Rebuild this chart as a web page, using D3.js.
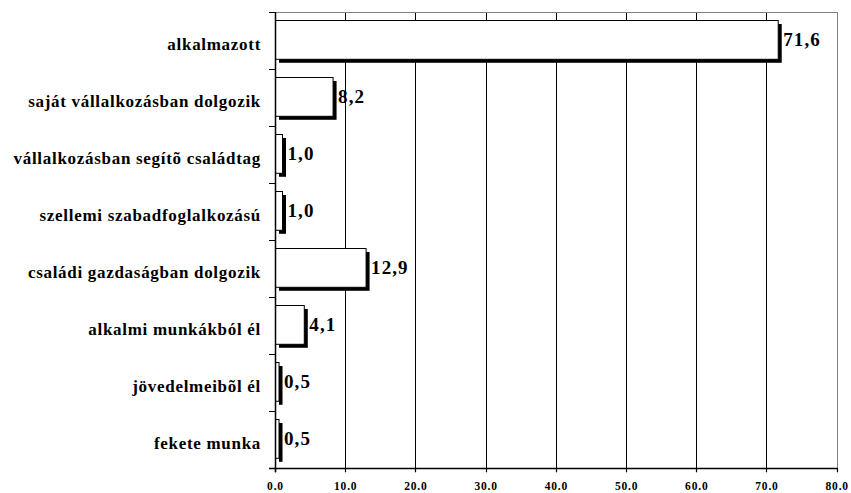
<!DOCTYPE html>
<html><head><meta charset="utf-8">
<script src="https://cdn.jsdelivr.net/npm/d3@7"></script>
<style>body{margin:0;background:#fff}svg{display:block}</style>
</head><body>
<script>
const categories = ["alkalmazott","saját vállalkozásban dolgozik","vállalkozásban segítõ családtag","szellemi szabadfoglalkozású","családi gazdaságban dolgozik","alkalmi munkákból él","jövedelmeibõl él","fekete munka"];
const values = [71.6, 8.2, 1.0, 1.0, 12.9, 4.1, 0.5, 0.5];
const valueLabels = ["71,6","8,2","1,0","1,0","12,9","4,1","0,5","0,5"];
const xTicks = [0,10,20,30,40,50,60,70,80];
const xTickLabels = ["0.0","10.0","20.0","30.0","40.0","50.0","60.0","70.0","80.0"];

(function(){
const W = 851, H = 493;
const pL = 275, pR = 836.7, pT = 12, pB = 468.3;
const svg = d3.select("body").append("svg").attr("width", W).attr("height", H);
const x = d3.scaleLinear().domain([0, 80]).range([pL, pR]);
const y = d3.scaleBand().domain(categories).range([pT, pB]).padding(0);
const font = "Liberation Serif, Times New Roman, serif";

// gridlines
svg.append("g").selectAll("line").data(xTicks.filter(t => t > 0 && t < 80)).join("line")
  .attr("x1", d => Math.round(x(d)) + 0.5).attr("x2", d => Math.round(x(d)) + 0.5)
  .attr("y1", pT).attr("y2", pB).attr("stroke", "#000").attr("stroke-width", 1);
// gray border top/right
svg.append("line").attr("x1", pL).attr("x2", Math.round(pR) + 0.5).attr("y1", pT + 0.5).attr("y2", pT + 0.5).attr("stroke", "#808080");
svg.append("line").attr("x1", Math.round(pR) + 0.5).attr("x2", Math.round(pR) + 0.5).attr("y1", pT).attr("y2", pB).attr("stroke", "#808080");

const bh = y.bandwidth() * 0.68, boff = 8, sh = 4;
const bars = svg.append("g");
// shadows
bars.selectAll("rect.sh").data(values).join("rect").attr("class", "sh")
  .attr("x", x(0) + sh).attr("y", (d, i) => Math.round(y(categories[i]) + boff) + sh)
  .attr("width", d => x(d) - x(0)).attr("height", bh).attr("fill", "#000");
bars.selectAll("rect.b").data(values).join("rect").attr("class", "b")
  .attr("x", x(0) + 0.5).attr("y", (d, i) => Math.round(y(categories[i]) + boff) + 0.5)
  .attr("width", d => x(d) - x(0)).attr("height", bh).attr("fill", "#fff")
  .attr("stroke", "#000").attr("stroke-width", 1);

// value labels
svg.append("g").selectAll("text").data(values).join("text")
  .attr("x", d => x(d) + sh + 1.5)
  .attr("y", (d, i) => y(categories[i]) + boff + bh / 2 + 6.5)
  .attr("font-family", font).attr("font-weight", "bold").attr("font-size", 19)
  .attr("letter-spacing", 1.1)
  .text((d, i) => valueLabels[i]);

// y axis
svg.append("line").attr("x1", pL + 0.5).attr("x2", pL + 0.5).attr("y1", pT).attr("y2", pB + 4).attr("stroke", "#000").attr("stroke-width", 1.5);
const bounds = categories.map(c => y(c));
svg.append("g").selectAll("line").data(bounds).join("line")
  .attr("x1", pL - 6).attr("x2", pL).attr("y1", d => Math.round(d) + 0.5).attr("y2", d => Math.round(d) + 0.5)
  .attr("stroke", "#000");
svg.append("g").selectAll("text").data(categories).join("text")
  .attr("x", 261).attr("y", d => y(d) + y.bandwidth() / 2 + 9)
  .attr("text-anchor", "end")
  .attr("font-family", font).attr("font-weight", "bold").attr("font-size", 17)
  .attr("letter-spacing", 0.7)
  .text(d => d);

// x axis
svg.append("line").attr("x1", pL - 6).attr("x2", Math.round(pR) + 1).attr("y1", Math.round(pB) + 0.5).attr("y2", Math.round(pB) + 0.5).attr("stroke", "#000").attr("stroke-width", 1.5);
svg.append("g").selectAll("line").data(xTicks).join("line")
  .attr("x1", d => Math.round(x(d)) + 0.5).attr("x2", d => Math.round(x(d)) + 0.5)
  .attr("y1", pB).attr("y2", pB + 4).attr("stroke", "#000").attr("stroke-width", 1.2);
svg.append("g").selectAll("text").data(xTicks).join("text")
  .attr("x", d => x(d) + 0.5).attr("y", 490)
  .attr("text-anchor", "middle")
  .attr("font-family", font).attr("font-weight", "bold").attr("font-size", 11.5)
  .attr("letter-spacing", 0.8)
  .text((d, i) => xTickLabels[i]);
})();
</script>
</body></html>
